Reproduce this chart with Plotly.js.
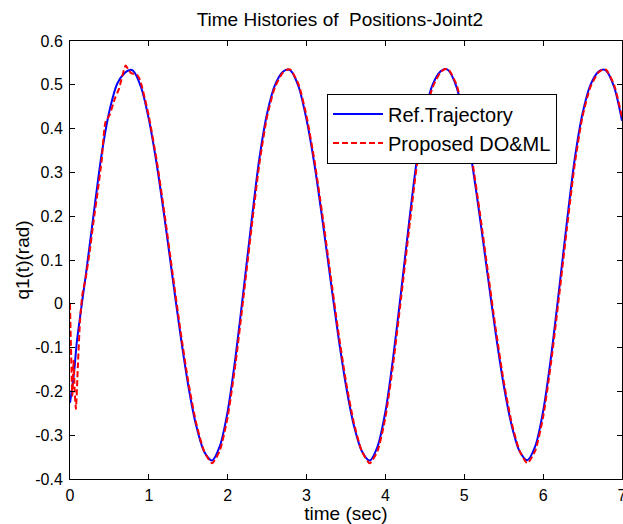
<!DOCTYPE html>
<html>
<head>
<meta charset="utf-8">
<script src="https://cdn.plot.ly/plotly-3.0.1.min.js"></script>
<style>html,body{margin:0;padding:0;background:#fff;}#chart{width:623px;height:524px;}</style>
</head>
<body>
<div id="chart"></div>
<script>
// ---- data ----
const seriesNames = ["Ref.Trajectory", "Proposed DO&ML"];

const refT = [0,0.05,0.085,0.12,0.15,0.2,0.3,0.4,0.5,0.6,0.7,0.76,
  0.8,0.9,1.0,1.1,1.2,1.3,1.4,1.5,1.6,1.7,1.8,1.9,2.0,2.1,2.2,2.3,2.4,2.5,2.6,2.7,2.76,
  2.8,2.9,3.0,3.1,3.2,3.3,3.4,3.5,3.6,3.7,3.8,3.9,4.0,4.1,4.2,4.3,4.4,4.5,4.6,4.7,4.76,
  4.8,4.9,5.0,5.1,5.2,5.3,5.4,5.5,5.6,5.7,5.8,5.9,6.0,6.1,6.2,6.3,6.4,6.5,6.6,6.7,6.76,
  6.8,6.9,7.0];
const refQ = [-0.226,-0.16,-0.09,-0.04,0.0,0.065,0.205,0.34,0.44,0.503,0.528,0.534,
  0.532,0.495,0.421,0.318,0.194,0.061,-0.070,-0.187,-0.278,-0.337,-0.358,-0.325,-0.245,-0.12,0.03,0.185,0.33,0.435,0.50,0.530,0.535,
  0.532,0.495,0.420,0.318,0.193,0.060,-0.071,-0.187,-0.278,-0.336,-0.358,-0.326,-0.246,-0.12,0.03,0.186,0.331,0.436,0.501,0.531,0.536,
  0.533,0.496,0.421,0.319,0.194,0.061,-0.070,-0.186,-0.277,-0.336,-0.357,-0.325,-0.245,-0.121,0.029,0.185,0.33,0.435,0.50,0.530,0.535,
  0.532,0.495,0.418];

const estT = [0,0.015,0.03,0.045,0.06,0.075,0.1,0.127,0.156,0.2,0.25,0.3,0.35,0.4,0.45,0.5,0.57,0.62,0.706,0.74,0.78,0.845,0.888,0.95,
  1.0,1.1,1.2,1.3,1.4,1.5,1.6,1.7,1.8,1.9,2.0,2.1,2.2,2.3,2.4,2.5,2.6,2.7,2.76,
  2.8,2.9,3.0,3.1,3.2,3.3,3.4,3.5,3.6,3.7,3.8,3.9,4.0,4.1,4.2,4.3,4.4,4.5,4.6,4.7,4.76,
  4.8,4.9,5.0,5.1,5.2,5.3,5.4,5.5,5.6,5.7,5.8,5.9,6.0,6.1,6.2,6.3,6.4,6.5,6.6,6.7,6.76,
  6.8,6.9,7.0];
const estQ = [0.0,-0.12,-0.21,-0.13,-0.2,-0.24,-0.14,-0.04,0.02,0.06,0.12,0.19,0.255,0.325,0.415,0.43,0.469,0.49,0.544,0.535,0.526,0.524,0.511,0.468,
  0.428,0.327,0.204,0.071,-0.060,-0.178,-0.272,-0.336,-0.364,-0.335,-0.258,-0.135,0.015,0.17,0.318,0.428,0.495,0.528,0.535,
  0.534,0.50,0.428,0.327,0.204,0.071,-0.060,-0.178,-0.272,-0.336,-0.364,-0.336,-0.259,-0.135,0.015,0.17,0.318,0.428,0.495,0.529,0.536,
  0.535,0.501,0.429,0.328,0.205,0.072,-0.059,-0.177,-0.271,-0.335,-0.364,-0.335,-0.258,-0.135,0.014,0.17,0.318,0.428,0.495,0.528,0.535,
  0.534,0.50,0.426];

const xTickVals = [0,1,2,3,4,5,6,7];
const xTickText = ["0","1","2","3","4","5","6","7"];
const yTickVals = [-0.4,-0.3,-0.2,-0.1,0,0.1,0.2,0.3,0.4,0.5,0.6];
const yTickText = ["-0.4","-0.3","-0.2","-0.1","0","0.1","0.2","0.3","0.4","0.5","0.6"];

const chartTitle = "Time Histories of \u00a0Positions-Joint2";
const xTitle = "time (sec)";
const yTitle = "q1(t)(rad)";

// ---- chart ----
const FONT = "Liberation Sans, Arial, Helvetica, sans-serif";
const traces = [
  {x: refT, y: refQ, name: seriesNames[0], type: "scatter", mode: "lines",
   line: {color: "#0000ff", width: 2, shape: "spline", smoothing: 0.8}},
  {x: estT, y: estQ, name: seriesNames[1], type: "scatter", mode: "lines",
   line: {color: "#ff0000", width: 2, dash: "6px,3px", shape: "spline", smoothing: 0.6}}
];

const axisCommon = {
  showline: true, linecolor: "#000", linewidth: 1, mirror: "ticks",
  ticks: "inside", ticklen: 5, tickcolor: "#000", tickwidth: 1,
  showgrid: false, zeroline: false, ticklabeloverflow: "allow",
  tickfont: {family: FONT, size: 16, color: "#000"}
};

const layout = {
  width: 623, height: 524,
  margin: {l: 70, r: 1, t: 41, b: 45, pad: 0},
  paper_bgcolor: "#fff", plot_bgcolor: "#fff",
  font: {family: FONT, color: "#000"},
  title: {text: chartTitle, font: {family: FONT, size: 19, color: "#000"},
          x: 0.489, xref: "paper", xanchor: "center", y: 0.964, yref: "container", yanchor: "middle"},
  xaxis: Object.assign({}, axisCommon, {
    range: [0, 7], tickmode: "array", tickvals: xTickVals, ticktext: xTickText,
    ticklabelstandoff: 2,
    title: {text: xTitle, font: {family: FONT, size: 19, color: "#000"}, standoff: 6}
  }),
  yaxis: Object.assign({}, axisCommon, {
    range: [-0.4, 0.6], tickmode: "array", tickvals: yTickVals, ticktext: yTickText,
    ticklabelstandoff: 3,
    title: {text: yTitle, font: {family: FONT, size: 19, color: "#000"}, standoff: 0}
  }),
  showlegend: true,
  legend: {x: 0.4656, y: 0.88, xanchor: "left", yanchor: "top",
           bgcolor: "#fff", bordercolor: "#000", borderwidth: 1,
           font: {family: FONT, size: 20, color: "#000"}, itemwidth: 50}
};

Plotly.newPlot("chart", traces, layout, {displayModeBar: false, staticPlot: true});
</script>
</body>
</html>
